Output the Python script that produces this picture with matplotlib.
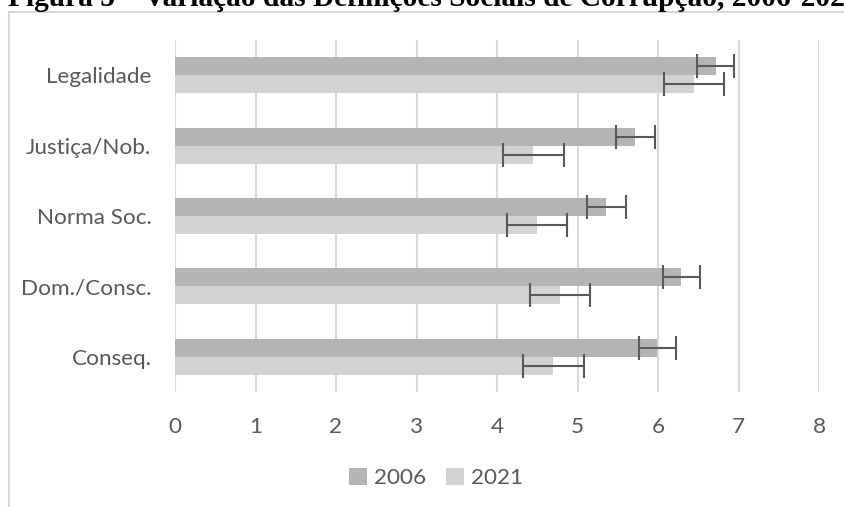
import matplotlib
matplotlib.use("Agg")
import matplotlib.pyplot as plt
from matplotlib.patches import Rectangle, Patch
import numpy as np

categories = ['Legalidade', 'Justiça/Nob.', 'Norma Soc.', 'Dom./Consc.', 'Conseq.']
series_names = ['2006', '2021']
values_2006 = [6.72, 5.72, 5.36, 6.29, 5.99]
values_2021 = [6.45, 4.45, 4.50, 4.78, 4.70]
err_2006 = [0.23, 0.24, 0.24, 0.23, 0.23]
err_2021 = [0.37, 0.38, 0.375, 0.375, 0.375]
x_ticks = [0, 1, 2, 3, 4, 5, 6, 7, 8]

W, H = 844, 507
fig = plt.figure(figsize=(W / 100, H / 100), dpi=100)
fig.patch.set_facecolor('white')

# outer chart frame
fig.add_artist(Rectangle((8.5 / W, -0.1), 1.2, 1.1 - 12 / H,
                         transform=fig.transFigure, fill=False,
                         edgecolor='#D9D9D9', linewidth=1.5))

# clipped title
fig.text(8 / W, 1 - 5.5 / H, 'Figura 5 – Variação das Definições Sociais de Corrupção, 2006-2021',
         family='Liberation Serif', fontweight='bold', fontsize=21.2,
         ha='left', va='baseline', color='black')

ax = fig.add_axes([175 / W, 1 - 392 / H, (819 - 175) / W, (392 - 40) / H])
ax.set_facecolor('none')

text_color = '#595959'
font = 'Lato'
y = np.arange(len(categories))
h = 0.256
c2006 = '#B4B4B4'
c2021 = '#D2D2D2'
errkw = dict(ecolor='#595959', elinewidth=1.5, capsize=8.5, capthick=1.5)

ax.barh(y - h / 2, values_2006, height=h, color=c2006, xerr=err_2006,
        error_kw=errkw, zorder=3, label=series_names[0])
ax.barh(y + h / 2, values_2021, height=h, color=c2021, xerr=err_2021,
        error_kw=errkw, zorder=3, label=series_names[1])

ax.set_xlim(0, 8)
ax.set_ylim(len(categories) - 0.5, -0.5)
ax.set_xticks(x_ticks)
ax.set_xticklabels([str(t) for t in x_ticks], family=font, fontsize=16.2, color=text_color)
ax.set_yticks(y)
ax.set_yticklabels(categories, family=font, fontsize=16.2, color=text_color)
ax.tick_params(axis='both', length=0)
ax.tick_params(axis='x', pad=18)
ax.tick_params(axis='y', pad=17)
ax.grid(axis='x', color='#D9D9D9', linewidth=1.5, zorder=0)
ax.set_axisbelow(True)
for s in ax.spines.values():
    s.set_visible(False)

handles = [Patch(facecolor=c2006, label=series_names[0]),
           Patch(facecolor=c2021, label=series_names[1])]
fig.legend(handles=handles, loc='center', bbox_to_anchor=(436 / W, 1 - 478 / H),
           ncol=2, frameon=False, prop={'family': font, 'size': 16.2},
           labelcolor=text_color, handlelength=0.8, handleheight=0.8,
           handletextpad=0.3, columnspacing=0.9)

fig.savefig('out.png', dpi=100)
